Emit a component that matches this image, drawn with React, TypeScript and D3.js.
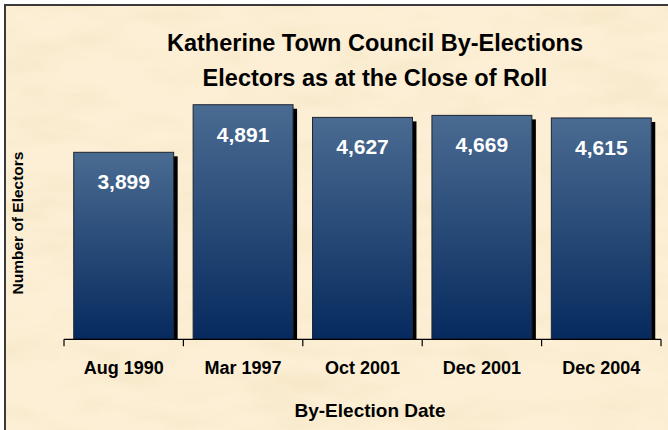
import React, { useEffect, useRef } from 'react';
import * as d3 from 'd3';

const categories = ['Aug 1990', 'Mar 1997', 'Oct 2001', 'Dec 2001', 'Dec 2004'];
const electors = [3899, 4891, 4627, 4669, 4615];
const titleLines = ['Katherine Town Council By-Elections', 'Electors as at the Close of Roll'];
const xTitle = 'By-Election Date';
const yTitle = 'Number of Electors';

const App: React.FC = () => {
  const svgRef = useRef<SVGSVGElement>(null);

  useEffect(() => {
    document.body.style.margin = '0';
    if (!svgRef.current) return;
    const svg = d3.select(svgRef.current);
    svg.selectAll('*').remove();

    const width = 668;
    const height = 430;
    const plot = { left: 64, right: 661, top: 99.5, bottom: 339.3 };
    const font = 'Arial, "Liberation Sans", sans-serif';

    const defs = svg.append('defs');

    // parchment texture
    const filter = defs.append('filter').attr('id', 'parchment')
      .attr('x', 0).attr('y', 0).attr('width', '100%').attr('height', '100%');
    filter.append('feTurbulence')
      .attr('type', 'fractalNoise')
      .attr('baseFrequency', '0.012 0.035')
      .attr('numOctaves', 4)
      .attr('seed', 7)
      .attr('result', 'noise');
    filter.append('feColorMatrix')
      .attr('in', 'noise')
      .attr('type', 'matrix')
      .attr('values', '0 0 0 0 0.86  0 0 0 0 0.72  0 0 0 0 0.46  1.6 0 0 0 -0.70');

    const grad = defs.append('linearGradient').attr('id', 'barGrad')
      .attr('x1', 0).attr('y1', 0).attr('x2', 0).attr('y2', 1);
    grad.append('stop').attr('offset', '0%').attr('stop-color', '#4a6b91');
    grad.append('stop').attr('offset', '100%').attr('stop-color', '#062a5e');

    // background
    svg.append('rect').attr('width', width).attr('height', height).attr('fill', '#ffffff');
    svg.append('rect')
      .attr('x', 5).attr('y', 5).attr('width', width + 20).attr('height', height + 20)
      .attr('fill', '#fcefd5');
    svg.append('rect')
      .attr('x', 5).attr('y', 5).attr('width', width).attr('height', height)
      .attr('filter', 'url(#parchment)')
      .attr('opacity', 0.5);
    svg.append('rect')
      .attr('x', 5).attr('y', 5).attr('width', width + 20).attr('height', height + 20)
      .attr('fill', 'none')
      .attr('stroke', '#3a3a3a')
      .attr('stroke-width', 2);

    const x = d3.scaleBand<string>()
      .domain(categories)
      .range([plot.left, plot.right])
      .paddingInner(0.163)
      .paddingOuter(0.0815);

    const y = d3.scaleLinear()
      .domain([0, 5000])
      .range([plot.bottom, plot.top]);

    const step = x.step();
    const offset = (step - x.bandwidth()) / 2;

    const bars = svg.append('g')
      .selectAll('g')
      .data(categories)
      .join('g');

    // shadow
    bars.append('rect')
      .attr('x', d => (x(d) as number) + 4)
      .attr('y', (d, i) => y(electors[i]) + 4)
      .attr('width', x.bandwidth())
      .attr('height', (d, i) => plot.bottom - y(electors[i]) - 4)
      .attr('fill', '#000000');

    bars.append('rect')
      .attr('x', d => x(d) as number)
      .attr('y', (d, i) => y(electors[i]))
      .attr('width', x.bandwidth())
      .attr('height', (d, i) => plot.bottom - y(electors[i]))
      .attr('fill', 'url(#barGrad)')
      .attr('stroke', '#1e2430')
      .attr('stroke-width', 1);

    bars.append('text')
      .attr('x', d => (x(d) as number) + x.bandwidth() / 2)
      .attr('y', (d, i) => y(electors[i]) + 37)
      .attr('text-anchor', 'middle')
      .attr('fill', '#ffffff')
      .attr('font-family', font)
      .attr('font-weight', 'bold')
      .attr('font-size', 21)
      .text((d, i) => d3.format(',')(electors[i]));

    // x axis
    const axis = svg.append('g');
    axis.append('line')
      .attr('x1', plot.left).attr('x2', plot.right)
      .attr('y1', plot.bottom).attr('y2', plot.bottom)
      .attr('stroke', '#000').attr('stroke-width', 1.2);
    const tickPos = categories.map(d => (x(d) as number) - offset).concat([plot.right]);
    axis.selectAll('.tick')
      .data(tickPos)
      .join('line')
      .attr('class', 'tick')
      .attr('x1', d => d).attr('x2', d => d)
      .attr('y1', plot.bottom).attr('y2', plot.bottom + 7)
      .attr('stroke', '#000').attr('stroke-width', 1.2);
    axis.selectAll('.lbl')
      .data(categories)
      .join('text')
      .attr('class', 'lbl')
      .attr('x', d => (x(d) as number) + x.bandwidth() / 2)
      .attr('y', 374)
      .attr('text-anchor', 'middle')
      .attr('font-family', font)
      .attr('font-weight', 'bold')
      .attr('font-size', 18)
      .attr('fill', '#000')
      .text(d => d);

    svg.append('text')
      .attr('x', 370).attr('y', 416.5)
      .attr('text-anchor', 'middle')
      .attr('font-family', font)
      .attr('font-weight', 'bold')
      .attr('font-size', 19)
      .text(xTitle);

    svg.append('text')
      .attr('transform', 'translate(23,223) rotate(-90)')
      .attr('text-anchor', 'middle')
      .attr('font-family', font)
      .attr('font-weight', 'bold')
      .attr('font-size', 15.5)
      .text(yTitle);

    svg.append('g')
      .selectAll('text')
      .data(titleLines)
      .join('text')
      .attr('x', 375)
      .attr('y', (d, i) => 51 + i * 35)
      .attr('text-anchor', 'middle')
      .attr('font-family', font)
      .attr('font-weight', 'bold')
      .attr('font-size', 23.5)
      .attr('fill', '#000')
      .text(d => d);
  }, []);

  return <svg ref={svgRef} width={668} height={430} style={{ display: 'block' }} />;
};

export default App;
